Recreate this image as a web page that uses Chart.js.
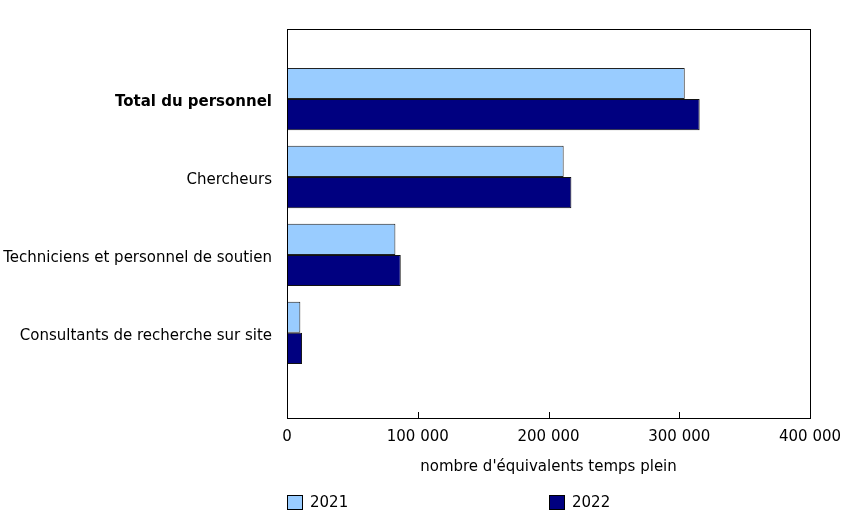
<!DOCTYPE html>
<html>
<head>
<meta charset="utf-8">
<script src="https://cdn.jsdelivr.net/npm/chart.js@4"></script>
<style>
  html, body { margin: 0; padding: 0; background: #ffffff; }
  #wrap { position: relative; width: 865px; height: 522px; }
</style>
</head>
<body>
<div id="wrap"><canvas id="c" width="865" height="522"></canvas></div>
<script>
const categories = [
  "Total du personnel",
  "Chercheurs",
  "Techniciens et personnel de soutien",
  "Consultants de recherche sur site"
];
const seriesLabels = ["2021", "2022"];
const values2021 = [304200, 211600, 82900, 10200];
const values2022 = [315600, 217500, 87000, 11500];
const xTickValues = [0, 100000, 200000, 300000, 400000];
const xAxisTitle = "nombre d'équivalents temps plein";

const FONT = "'DejaVu Sans', Verdana, sans-serif";
const FS = 15;

function fmt(v) {
  return String(v).replace(/\B(?=(\d{3})+(?!\d))/g, "\u00a0");
}

const framePlugin = {
  id: 'frame',
  afterDraw(chart) {
    const { ctx, chartArea: a } = chart;
    const xs = chart.scales.x;
    ctx.save();
    ctx.strokeStyle = '#000000';
    ctx.lineWidth = 1;
    ctx.strokeRect(Math.round(a.left) + 0.5, Math.round(a.top) + 0.5,
                   Math.round(a.right - a.left), Math.round(a.bottom - a.top));
    ctx.beginPath();
    xs.ticks.forEach((t, i) => {
      const px = Math.round(xs.getPixelForTick(i)) + 0.5;
      ctx.moveTo(px, a.bottom);
      ctx.lineTo(px, a.bottom - 6);
    });
    ctx.stroke();
    // legend
    const ds = chart.data.datasets;
    const legendPos = [0, 200000];
    ctx.font = FS + "px " + FONT;
    ctx.textBaseline = 'middle';
    ctx.textAlign = 'left';
    const ly = 502;
    ds.forEach((d, i) => {
      const lx = Math.round(xs.getPixelForValue(legendPos[i]));
      ctx.fillStyle = d.backgroundColor;
      ctx.fillRect(lx + 0.5, 495.5, 15, 14);
      ctx.strokeStyle = '#000000';
      ctx.strokeRect(lx + 0.5, 495.5, 15, 14);
      ctx.fillStyle = '#000000';
      ctx.fillText(d.label, lx + 23, ly + 1);
    });
    ctx.restore();
  }
};

new Chart(document.getElementById('c'), {
  type: 'bar',
  data: {
    datasets: [
      {
        label: seriesLabels[0],
        data: values2021.map((v, i) => ({ x: v, y: i })),
        backgroundColor: '#99CCFF',
        borderColor: '#222222',
        borderWidth: 1
      },
      {
        label: seriesLabels[1],
        data: values2022.map((v, i) => ({ x: v, y: i })),
        backgroundColor: '#000080',
        borderColor: '#111111',
        borderWidth: 1
      }
    ]
  },
  options: {
    indexAxis: 'y',
    responsive: false,
    animation: false,
    devicePixelRatio: 1,
    categoryPercentage: 0.8,
    barPercentage: 1.0,
    layout: { padding: { top: 29, right: 55, bottom: 42, left: 0 } },
    plugins: {
      legend: { display: false },
      tooltip: { enabled: false }
    },
    scales: {
      x: {
        type: 'linear',
        position: 'bottom',
        min: 0,
        max: 400000,
        offset: false,
        afterBuildTicks(scale) { scale.ticks = xTickValues.map(v => ({ value: v })); },
        afterFit(scale) { scale.height = 62; },
        grid: { display: false, drawTicks: false },
        border: { display: false },
        ticks: {
          padding: 10,
          color: '#000000',
          font: { family: FONT, size: FS },
          maxRotation: 0,
          callback: (v) => fmt(v)
        },
        title: {
          display: true,
          text: xAxisTitle,
          color: '#000000',
          font: { family: FONT, size: FS },
          padding: { top: 12, bottom: 4 }
        }
      },
      y: {
        type: 'linear',
        reverse: true,
        offset: false,
        min: -0.9,
        max: 4.094,
        afterBuildTicks(scale) { scale.ticks = categories.map((c, i) => ({ value: i })); },
        afterFit(scale) { scale.width = 287; },
        grid: { display: false, drawTicks: false },
        border: { display: false },
        ticks: {
          padding: 15,
          labelOffset: 3,
          color: '#000000',
          font: (ctx) => ({ family: FONT, size: FS, weight: (ctx.tick && ctx.tick.value === 0) ? 'bold' : 'normal' }),
          callback: (v) => categories[v] !== undefined ? categories[v] : ''
        }
      }
    }
  },
  plugins: [framePlugin]
});
</script>
</body>
</html>
